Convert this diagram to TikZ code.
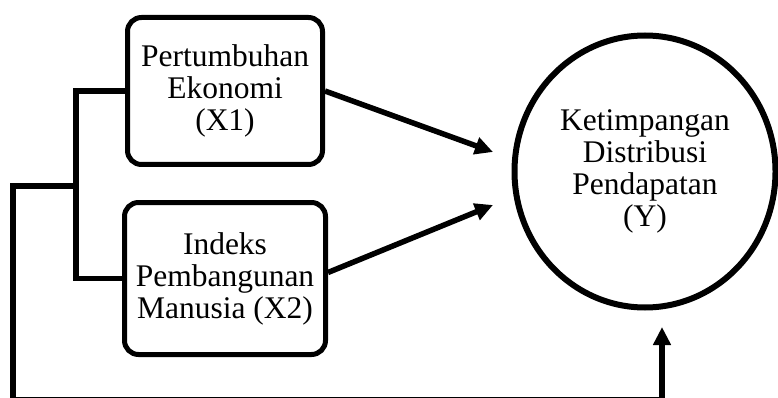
\documentclass[tikz,border=0pt]{standalone}
\usepackage{fontspec}
\setmainfont{Liberation Serif}
\usetikzlibrary{arrows.meta, shapes.geometric}

\begin{document}
\begin{tikzpicture}[x=1pt, y=-1pt, line width=5.5pt,
  every node/.style={font=\fontsize{31.5}{32}\selectfont, align=center},
  varbox/.style={draw, line width=5pt, rounded corners=14pt, inner sep=0pt},
  tip/.style={-{Triangle[length=18pt, width=17pt]}}]
  \useasboundingbox (0, 0) rectangle (778, 398);

  % independent variables
  \node[varbox, minimum width=195pt, minimum height=147pt] (pe) at (225, 91)
    {Pertumbuhan\\Ekonomi\\(X1)};
  \node[varbox, minimum width=201pt, minimum height=152pt] (ipm) at (225, 278.5)
    {Indeks\\Pembangunan\\Manusia (X2)};

  % dependent variable
  \node[draw, ellipse, line width=6pt, inner sep=0pt,
        minimum width=261pt, minimum height=272pt] (kdp) at (645, 171.5)
    {Ketimpangan\\Distribusi\\Pendapatan\\(Y)};

  % free ends
  \coordinate (t1) at (493, 152);
  \coordinate (t2) at (493, 205);
  \coordinate (t3) at (662, 327);
  \coordinate (jn) at (76, 186);
  \coordinate (fb) at (13, 399.6);

  % partial effects
  \draw[tip] (pe.east) -- (t1);
  \draw[tip] ([yshift=6pt]ipm.east) -- (t2);

  % joint effect
  \draw (pe.west) -| (jn) |- (ipm.west);
  \draw[tip] (jn) -| (fb) -| (t3);
\end{tikzpicture}
\end{document}
